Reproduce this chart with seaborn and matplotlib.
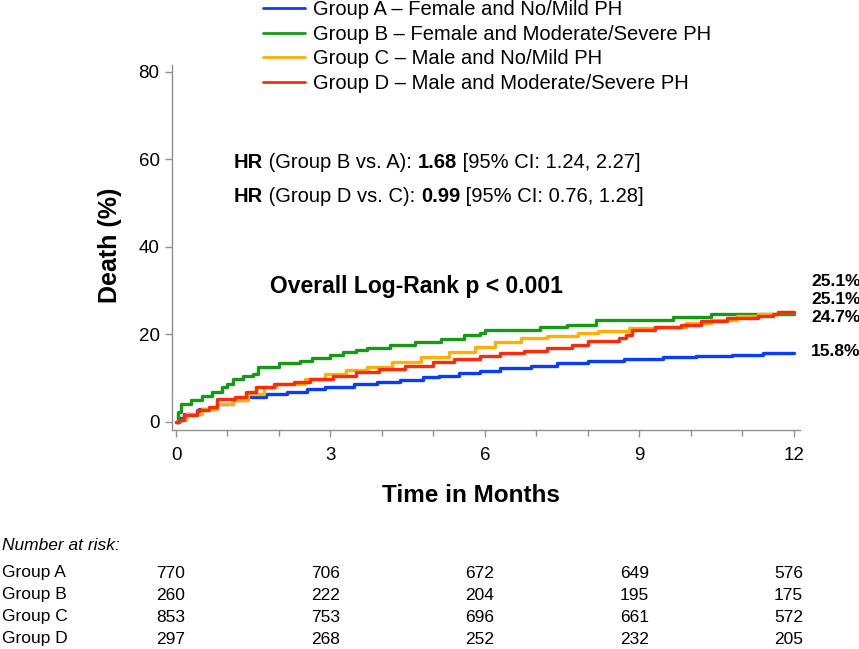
import numpy as np
import pandas as pd
import matplotlib
matplotlib.use("Agg")
import matplotlib.pyplot as plt
import seaborn as sns
from matplotlib.ticker import MultipleLocator

# Cumulative death (%), step points (months, %)
time_a = [0, 0.05, 0.15, 0.45, 0.8, 1.1, 1.35, 1.75, 2.15, 2.55, 2.9, 3.45, 3.9, 4.35,
          4.8, 5.1, 5.5, 5.9, 6.3, 6.9, 7.4, 8.0, 8.7, 9.45, 10.1, 10.8, 11.4, 12.0]
death_a = [0, 0.8, 1.9, 3.0, 4.2, 5.0, 5.6, 6.3, 6.8, 7.6, 8.1, 8.7, 9.1, 9.7,
           10.3, 10.6, 11.2, 11.6, 12.3, 12.8, 13.4, 14.0, 14.4, 14.8, 15.0, 15.4, 15.8, 15.8]

time_b = [0, 0.03, 0.1, 0.3, 0.5, 0.7, 0.9, 1.0, 1.1, 1.3, 1.5, 1.6, 2.0, 2.4, 2.65,
          3.0, 3.25, 3.5, 3.7, 4.15, 4.65, 5.15, 5.6, 5.9, 6.0, 7.07, 7.6, 8.15, 9.65,
          10.4, 12.0]
death_b = [0, 2.3, 4.2, 5.0, 6.0, 6.8, 8.0, 8.7, 9.9, 10.6, 11.0, 12.5, 13.5, 14.0, 14.7,
           15.4, 16.0, 16.5, 17.0, 17.5, 18.3, 19.0, 19.8, 20.4, 21.0, 21.6, 22.2, 23.2, 23.9,
           24.7, 24.7]

time_c = [0, 0.05, 0.2, 0.5, 0.8, 1.1, 1.4, 1.7, 1.95, 2.5, 2.9, 3.3, 3.7, 4.2, 4.75,
          5.3, 5.8, 6.2, 6.7, 7.2, 7.8, 8.2, 8.8, 9.3, 9.9, 10.4, 10.9, 11.3, 11.7, 12.0]
death_c = [0, 0.4, 1.9, 3.0, 4.2, 5.1, 6.5, 8.0, 8.7, 9.9, 11.0, 11.8, 12.5, 13.7, 14.8,
           16.0, 17.1, 18.3, 19.2, 19.7, 20.3, 20.9, 21.4, 21.8, 22.6, 23.3, 24.2, 24.7, 25.1, 25.1]

time_d = [0, 0.05, 0.15, 0.4, 0.65, 0.8, 1.15, 1.35, 1.55, 1.9, 2.3, 2.6, 3.05, 3.5,
          3.95, 4.45, 5.0, 5.4, 5.9, 6.3, 6.75, 7.2, 7.7, 8.0, 8.6, 8.75, 8.85, 9.3, 9.8,
          10.2, 10.7, 11.3, 11.6, 11.7, 12.0]
death_d = [0, 0.4, 1.5, 2.7, 3.4, 5.3, 5.7, 6.8, 8.0, 8.7, 9.1, 9.9, 10.6, 11.4,
           12.2, 12.9, 13.7, 14.4, 15.0, 15.7, 16.3, 16.8, 17.6, 18.4, 19.2, 19.9, 21.1, 21.7, 22.2,
           23.0, 23.7, 24.2, 24.7, 25.1, 25.1]

group_labels = ["Group A \u2013 Female and No/Mild PH",
                "Group B \u2013 Female and Moderate/Severe PH",
                "Group C \u2013 Male and No/Mild PH",
                "Group D \u2013 Male and Moderate/Severe PH"]
colors = ["#0a3cff", "#169a16", "#ffb000", "#ff2a0a"]

end_labels = ["25.1%", "25.1%", "24.7%", "15.8%"]

# number at risk table
risk_times = [0, 3, 6, 9, 12]
risk_groups = ["Group A", "Group B", "Group C", "Group D"]
risk_a = [770, 706, 672, 649, 576]
risk_b = [260, 222, 204, 195, 175]
risk_c = [853, 753, 696, 661, 572]
risk_d = [297, 268, 252, 232, 205]

# long dataframe for seaborn
frames = []
for lab, t, d in zip(group_labels, [time_a, time_b, time_c, time_d],
                     [death_a, death_b, death_c, death_d]):
    frames.append(pd.DataFrame({"Time": t, "Death": d, "Group": lab}))
km = pd.concat(frames, ignore_index=True)

sns.set_style("white")
plt.rcParams["font.family"] = ["Liberation Sans", "DejaVu Sans"]
plt.rcParams["text.color"] = "black"
plt.rcParams["xtick.labelcolor"] = "black"
plt.rcParams["ytick.labelcolor"] = "black"

W, H = 859, 649
fig = plt.figure(figsize=(W / 100, H / 100), dpi=100)
ax = fig.add_axes([172 / W, 1 - 430 / H, 628 / W, 365 / H])

sns.lineplot(data=km, x="Time", y="Death", hue="Group", hue_order=group_labels,
             palette=colors, drawstyle="steps-post", linewidth=2.4, sort=False,
             estimator=None, ax=ax)

ax.set_xlim(-0.078, 12.12)
ax.set_ylim(-1.83, 81.6)
ax.set_xticks(risk_times)
ax.xaxis.set_minor_locator(MultipleLocator(1))
ax.set_yticks([0, 20, 40, 60, 80])
ax.set_xlabel("")
ax.set_ylabel("")
for s in ["top", "right"]:
    ax.spines[s].set_visible(False)
for s in ["left", "bottom"]:
    ax.spines[s].set_color("#909090")
    ax.spines[s].set_linewidth(1.0)
ax.tick_params(axis="both", which="both", direction="out", color="#909090",
               labelsize=13.5, width=1, bottom=True, left=True, labelcolor="black")
ax.tick_params(axis="both", which="major", length=5, pad=4)
ax.tick_params(axis="x", which="minor", length=4)
ax.tick_params(axis="x", which="major", pad=7)

# legend at the top
handles, labels = ax.get_legend_handles_labels()
leg = ax.legend(handles, labels, loc="upper left", bbox_to_anchor=(263 / W, 1.0),
                bbox_transform=fig.transFigure, frameon=False, fontsize=14.5,
                handlelength=2.1, handletextpad=0.4, labelspacing=0.28,
                borderpad=0, borderaxespad=0)
for ln in leg.get_lines():
    ln.set_linewidth(2)

# axis labels
fig.text(110 / W, 1 - 245 / H, "Death (%)", rotation=90, ha="center", va="center",
         fontsize=18, fontweight="bold")
fig.text(471 / W, 1 - 496 / H, "Time in Months", ha="center", va="center",
         fontsize=17.5, fontweight="bold")

# hazard ratio annotations (mixed bold / normal pieces)
def rich_line(x, y, pieces):
    t = fig.text(x, y, pieces[0][0], fontsize=14.5, fontweight=pieces[0][1],
                 va="center", ha="left")
    for txt, wt in pieces[1:]:
        t = ax.annotate(txt, xy=(1, 0), xycoords=t, va="bottom", ha="left",
                        fontsize=14.5, fontweight=wt)

rich_line(234 / W, 1 - 162 / H, [("HR", "bold"), (" (Group B vs. A): ", "normal"),
                                 ("1.68", "bold"), (" [95% CI: 1.24, 2.27]", "normal")])
rich_line(234 / W, 1 - 197 / H, [("HR", "bold"), (" (Group D vs. C): ", "normal"),
                                 ("0.99", "bold"), (" [95% CI: 0.76, 1.28]", "normal")])

fig.text(270 / W, 1 - 287 / H, "Overall Log-Rank p < 0.001", ha="left", va="center",
         fontsize=16.5, fontweight="bold")

# end-of-curve percentages
for lab, yy in zip(end_labels, [282, 300, 318, 352]):
    fig.text(811 / W, 1 - yy / H, lab, ha="left", va="center", fontsize=12.5,
             fontweight="bold")

# number at risk
fig.text(2 / W, 1 - 545 / H, "Number at risk:", ha="left", va="center",
         fontsize=12.5, style="italic")
blend = matplotlib.transforms.blended_transform_factory(ax.transData, fig.transFigure)
for g, row, yy in zip(risk_groups, [risk_a, risk_b, risk_c, risk_d], [573, 595, 617, 639]):
    fig.text(2 / W, 1 - yy / H, g, ha="left", va="center", fontsize=12.5)
    for t, n in zip(risk_times, row):
        fig.text(t - 0.1, 1 - yy / H, str(n), ha="center", va="center", fontsize=12.5,
                 transform=blend)

fig.savefig("out.png", dpi=100)
